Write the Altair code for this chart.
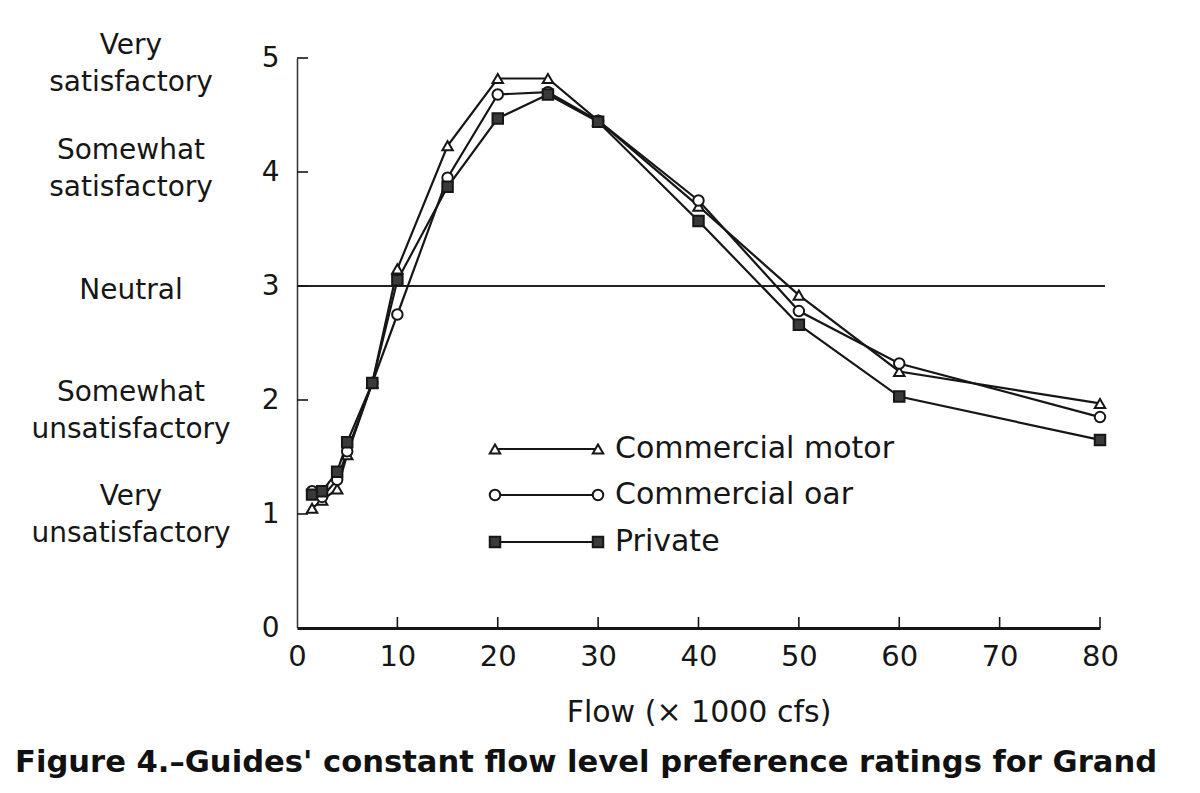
import altair as alt
import pandas as pd

# ---- data ----
flow = [1.5, 2.5, 4, 5, 7.5, 10, 15, 20, 25, 30, 40, 50, 60, 80]
motor = [1.05, 1.12, 1.22, 1.52, 2.15, 3.15, 4.23, 4.82, 4.82, 4.45, 3.70, 2.92, 2.25, 1.97]
oar = [1.20, 1.15, 1.30, 1.55, 2.15, 2.75, 3.95, 4.68, 4.70, 4.45, 3.75, 2.78, 2.32, 1.85]
private = [1.17, 1.20, 1.37, 1.63, 2.15, 3.05, 3.87, 4.47, 4.68, 4.44, 3.57, 2.66, 2.03, 1.65]

series_names = ["Commercial motor", "Commercial oar", "Private"]
series_shapes = ["triangle-up", "circle", "square"]
series_fills = ["white", "white", "#3a3a3a"]

rating_values = [1, 2, 3, 4, 5]
rating_labels = ["Very\nunsatisfactory", "Somewhat\nunsatisfactory", "Neutral",
                 "Somewhat\nsatisfactory", "Very\nsatisfactory"]
x_ticks = [0, 10, 20, 30, 40, 50, 60, 70, 80]
y_ticks = [0, 1, 2, 3, 4, 5]
neutral_value = [3]

x_title = "Flow (× 1000 cfs)"
caption = "Figure 4.–Guides' constant flow level preference ratings for Grand"

rows = []
for name, vals in zip(series_names, [motor, oar, private]):
    for f, v in zip(flow, vals):
        rows.append({"series": name, "flow": f, "rating": v})
df = pd.DataFrame(rows)

# ---- style ----
INK = "#161616"
W, H = 803, 570
FONT = "DejaVu Sans, Verdana, sans-serif"
label_dy = [-17, -7, 5, -21, -12]   # vertical nudge of each rating caption (style)

xscale = alt.Scale(domain=[0, 80], nice=False, zero=True)
yscale = alt.Scale(domain=[0, 5], nice=False, zero=True)

x_axis = alt.Axis(values=x_ticks, ticks=False, grid=False, domainColor=INK,
                  domainWidth=3, labelFont=FONT, labelFontSize=29, labelFlush=False,
                  labelColor=INK, labelPadding=14, title=x_title,
                  titleFont=FONT, titleFontSize=30, titleFontWeight="normal",
                  titleColor=INK, titlePadding=26)
y_axis = alt.Axis(values=y_ticks, ticks=False, grid=False, domainColor="#333333",
                  domainWidth=1.5, labelFont=FONT, labelFontSize=28,
                  labelColor=INK, labelPadding=18, labelFlush=False, title=None)


def X(field):
    return alt.X(field, scale=xscale, axis=x_axis)


def Y(field):
    return alt.Y(field, scale=yscale, axis=y_axis)


lines = alt.Chart(df).mark_line(color=INK, strokeWidth=2.2).encode(
    x=X("flow:Q"), y=Y("rating:Q"), detail="series:N")

points = alt.Chart(df).mark_point(stroke=INK, strokeWidth=2, opacity=1, size=110, filled=False).encode(
    x=X("flow:Q"), y=Y("rating:Q"),
    shape=alt.Shape("series:N", scale=alt.Scale(domain=series_names, range=series_shapes), legend=None),
    fill=alt.Fill("series:N", scale=alt.Scale(domain=series_names, range=series_fills), legend=None),
)

neutral = alt.Chart(pd.DataFrame({"v": neutral_value})).mark_rule(color="#222222", strokeWidth=2.2).encode(
    x=alt.value(0), x2=alt.value(808), y=Y("v:Q"))

xt = alt.Chart(pd.DataFrame({"t": x_ticks[1:]})).mark_rule(color=INK, strokeWidth=1.6).encode(
    x=X("t:Q"), y=alt.value(H), y2=alt.value(H - 11))
yt = alt.Chart(pd.DataFrame({"t": y_ticks[1:]})).mark_rule(color=INK, strokeWidth=1.6).encode(
    y=Y("t:Q"), x=alt.value(0), x2=alt.value(11))

cat_layers = []
for r, lab, ddy in zip(rating_values, rating_labels, label_dy):
    cat_layers.append(
        alt.Chart(pd.DataFrame({"r": [r], "label": [lab]})).mark_text(
            lineBreak="\n", align="center", baseline="middle", font=FONT, fontSize=28,
            lineHeight=37, color=INK, dy=ddy).encode(
            x=alt.value(-166), y=Y("r:Q"), text="label:N"))

legend_layers = []
leg_y = [391, 437, 484]
for name, shp, fil, ly in zip(series_names, series_shapes, series_fills, leg_y):
    d = pd.DataFrame({"series": [name]})
    base = alt.Chart(d)
    legend_layers.append(base.mark_rule(color=INK, strokeWidth=2.2).encode(
        x=alt.value(198), x2=alt.value(301), y=alt.value(ly)))
    for lx in (198, 301):
        legend_layers.append(base.mark_point(shape=shp, fill=fil, stroke=INK, strokeWidth=2,
                                             opacity=1, size=110, filled=True).encode(
            x=alt.value(lx), y=alt.value(ly)))
    legend_layers.append(base.mark_text(align="left", baseline="middle", font=FONT,
                                        fontSize=30, color=INK).encode(
        x=alt.value(318), y=alt.value(ly), text="series:N"))

cap = alt.Chart(pd.DataFrame({"c": [caption]})).mark_text(
    align="left", baseline="alphabetic", font=FONT, fontSize=30.6, fontWeight="bold",
    color="#111111").encode(x=alt.value(-282), y=alt.value(714), text="c:N")

chart = alt.layer(neutral, lines, points, xt, yt, *cat_layers, *legend_layers, cap).properties(
    width=W, height=H,
    autosize=alt.AutoSizeParams(type="none"),
    padding={"left": 289, "top": 50, "right": 70, "bottom": 160},
    background="white",
).configure_view(stroke=None)

chart.save("out.html", embed_options={"renderer": "svg", "actions": False})
